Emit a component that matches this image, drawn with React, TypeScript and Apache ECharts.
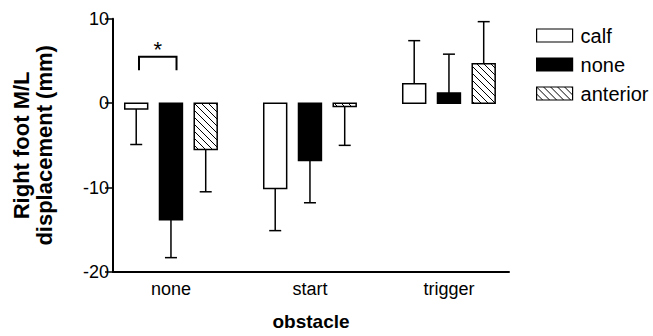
import React, { useEffect, useRef } from 'react';
import * as echarts from 'echarts';

const categories = ['none', 'start', 'trigger'];
const seriesNames = ['calf', 'none', 'anterior'];
const calfMean = [-0.7, -10.1, 2.3];
const calfErr = [4.2, 5.0, 5.1];
const noneMean = [-13.8, -6.8, 1.2];
const noneErr = [4.5, 5.0, 4.6];
const anteriorMean = [-5.5, -0.4, 4.65];
const anteriorErr = [5.0, 4.6, 5.0];
const yTicks = [-20, -10, 0, 10];
const sigBracketX = [-0.23, 0.04];
const sigBracketY = [3.9, 5.5];
const sigMarkY = 6.3;
const sigMark = '*';

const FONT = '"Liberation Sans", Arial, Helvetica, sans-serif';
const OFFSETS = [-0.25, 0, 0.25];
const BAR_W = 0.165;
const CAP = 6;

function makeHatch() {
  const c = document.createElement('canvas');
  c.width = 7;
  c.height = 7;
  const ctx = c.getContext('2d')!;
  ctx.fillStyle = '#fff';
  ctx.fillRect(0, 0, 7, 7);
  ctx.strokeStyle = '#000';
  ctx.lineWidth = 1;
  ctx.beginPath();
  ctx.moveTo(-1, -1);
  ctx.lineTo(8, 8);
  ctx.stroke();
  return { image: c, repeat: 'repeat' };
}

export default function App() {
  const ref = useRef<HTMLDivElement>(null);
  useEffect(() => {
    if (!ref.current) return;
    const chart = echarts.init(ref.current, undefined, { renderer: 'svg' });
    const hatch = makeHatch();
    const fills: any[] = ['#fff', '#000', hatch];
    const means = [calfMean, noneMean, anteriorMean];
    const errs = [calfErr, noneErr, anteriorErr];

    const barSeries = seriesNames.map((name, s) => ({
      type: 'custom',
      name,
      itemStyle: { color: fills[s], borderColor: '#000', borderWidth: 1.5 },
      data: categories.map((_, i) => [i, means[s][i], errs[s][i]]),
      encode: { x: 0, y: 1 },
      clip: false,
      renderItem: (params: any, api: any) => {
        const x = api.value(0) + OFFSETS[s];
        const mean = api.value(1);
        const err = api.value(2);
        const base = api.coord([x, 0]);
        const top = api.coord([x, mean]);
        const end = api.coord([x, mean + Math.sign(mean) * err]);
        const w = api.size([BAR_W, 0])[0];
        return {
          type: 'group',
          children: [
            { type: 'line', shape: { x1: top[0], y1: top[1], x2: end[0], y2: end[1] }, style: { stroke: '#000', lineWidth: 1.5 } },
            { type: 'line', shape: { x1: end[0] - CAP, y1: end[1], x2: end[0] + CAP, y2: end[1] }, style: { stroke: '#000', lineWidth: 1.5 } },
            {
              type: 'rect',
              shape: { x: base[0] - w / 2, y: Math.min(base[1], top[1]), width: w, height: Math.abs(top[1] - base[1]) },
              style: { fill: fills[s], stroke: '#000', lineWidth: 1.5 },
            },
          ],
        };
      },
    }));

    const sigSeries = {
      type: 'custom',
      name: 'sig',
      data: [[sigBracketX[0], sigBracketX[1], sigBracketY[0], sigBracketY[1], sigMarkY]],
      encode: { x: [0, 1], y: [2, 3, 4] },
      clip: false,
      renderItem: (params: any, api: any) => {
        const a = api.coord([api.value(0), api.value(2)]);
        const b = api.coord([api.value(0), api.value(3)]);
        const c = api.coord([api.value(1), api.value(3)]);
        const d = api.coord([api.value(1), api.value(2)]);
        const m = api.coord([(api.value(0) + api.value(1)) / 2, api.value(4)]);
        return {
          type: 'group',
          children: [
            { type: 'polyline', shape: { points: [a, b, c, d] }, style: { stroke: '#000', lineWidth: 2, fill: 'none' } },
            { type: 'text', x: m[0], y: m[1], style: { text: sigMark, fill: '#000', font: `22px ${FONT}`, align: 'center', verticalAlign: 'middle' } },
          ],
        };
      },
    };

    chart.setOption({
      animation: false,
      backgroundColor: '#fff',
      textStyle: { fontFamily: FONT, color: '#000' },
      grid: { left: 113, right: 144, top: 18.7, bottom: 54, containLabel: false },
      legend: {
        orient: 'vertical',
        left: 536,
        top: 25.5,
        padding: 0,
        icon: 'rect',
        itemWidth: 36,
        itemHeight: 13,
        itemGap: 9,
        selectedMode: false,
        textStyle: { fontSize: 20, lineHeight: 20, color: '#000', fontFamily: FONT, padding: [0, 0, 0, 3] },
        data: seriesNames.map((name, s) => ({
          name,
          itemStyle: { color: fills[s], borderColor: '#000', borderWidth: 1.2 },
        })),
      },
      xAxis: {
        type: 'value',
        min: -0.417,
        max: 2.432,
        name: 'obstacle',
        nameLocation: 'middle',
        nameGap: 40,
        nameTextStyle: { fontSize: 19, fontWeight: 'bold', color: '#000', fontFamily: FONT },
        axisLine: { onZero: false, lineStyle: { color: '#000', width: 2 } },
        axisTick: { show: false },
        splitLine: { show: false },
        axisLabel: {
          customValues: [0, 1, 2],
          formatter: (v: number) => categories[Math.round(v)] ?? '',
          fontSize: 18,
          color: '#000',
          fontFamily: FONT,
          margin: 8,
        },
      },
      yAxis: {
        type: 'value',
        min: yTicks[0],
        max: yTicks[yTicks.length - 1],
        interval: 10,
        name: 'Right foot M/L\ndisplacement (mm)',
        nameLocation: 'middle',
        nameGap: 57,
        nameTextStyle: { fontSize: 22, fontWeight: 'bold', color: '#000', fontFamily: FONT, lineHeight: 23 },
        axisLine: { show: true, onZero: false, lineStyle: { color: '#000', width: 2 } },
        axisTick: { show: true, length: 8, lineStyle: { color: '#000', width: 1.5 } },
        splitLine: { show: false },
        axisLabel: { fontSize: 18, color: '#000', fontFamily: FONT, margin: 4 },
      },
      series: [...barSeries, sigSeries],
    });
    return () => chart.dispose();
  }, []);
  return <div ref={ref} style={{ position: 'fixed', left: 0, top: 0, width: 653, height: 336 }} />;
}
